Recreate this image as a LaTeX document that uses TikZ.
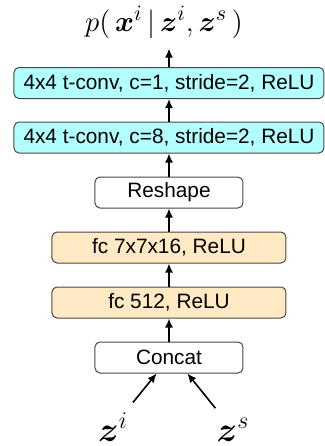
\documentclass[tikz,border=0pt]{standalone}
\usepackage{fontspec}
\setmainfont{Liberation Sans}
\usepackage{bm}
\usetikzlibrary{arrows.meta}

\definecolor{convfill}{RGB}{178,255,255}
\definecolor{fcfill}{RGB}{255,234,196}
\definecolor{layerdraw}{RGB}{70,70,70}

\tikzset{
    layer/.style={draw=layerdraw,line width=0.5pt,rounded corners=2.5pt,inner sep=0pt,minimum height=\layerheight pt,font=\layerfontsize},
    convlayer/.style={layer,fill=convfill,minimum width=\convwidth pt},
    fclayer/.style={layer,fill=fcfill,minimum width=\fcwidth pt},
    plainlayer/.style={layer,fill=white,minimum width=\plainwidth pt},
    flow/.style={-{Latex[length=4.5pt,width=4pt]},line width=0.8pt}
}

\begin{document}
\begin{tikzpicture}[x=0.5pt,y=0.5pt]
    \pgfmathsetmacro{\layerheight}{15.5}
    \pgfmathsetmacro{\convwidth}{155}
    \pgfmathsetmacro{\fcwidth}{117}
    \pgfmathsetmacro{\plainwidth}{74}
    \pgfmathsetmacro{\colx}{169}
    \providecommand{\layerfontsize}{\fontsize{10.4pt}{12pt}\selectfont}
    \providecommand{\mathfontsize}{\fontsize{15.5pt}{19pt}\selectfont}
    \providecommand{\latentfontsize}{\fontsize{18pt}{21pt}\selectfont}
    \useasboundingbox (0,0) rectangle (325,446);
    \node[plainlayer] (concat) at (\colx,88.5) {Concat};
    \node[fclayer] (fcone) at (\colx,143.5) {fc 512, ReLU};
    \node[fclayer] (fctwo) at (\colx,198.5) {fc 7x7x16, ReLU};
    \node[plainlayer] (reshape) at (\colx,253.5) {Reshape};
    \node[convlayer] (tconvone) at (\colx,308.5) {4x4 t-conv, c=8, stride=2, ReLU};
    \node[convlayer] (tconvtwo) at (\colx,363) {4x4 t-conv, c=1, stride=2, ReLU};
    \node[anchor=base,inner sep=0pt,font=\mathfontsize] (output) at (164,415)
        {$p(\,\bm{x}^{i}\,|\,\bm{z}^{i},\bm{z}^{s}\,)$};
    \node[inner sep=5pt,font=\latentfontsize] (zi) at (113,19) {$\bm{z}^{i}$};
    \node[inner sep=5pt,font=\latentfontsize] (zs) at (233,16) {$\bm{z}^{s}$};
    \draw[flow] (zi) -- (concat.232);
    \draw[flow] (zs) -- (concat.319);
    \draw[flow] (concat) -- (fcone);
    \draw[flow] (fcone) -- (fctwo);
    \draw[flow] (fctwo) -- (reshape);
    \draw[flow] (reshape) -- (tconvone);
    \draw[flow] (tconvone) -- (tconvtwo);
    \draw[flow,shorten >=5pt] (tconvtwo.north) -- (tconvtwo.north |- output.south);
\end{tikzpicture}
\end{document}
